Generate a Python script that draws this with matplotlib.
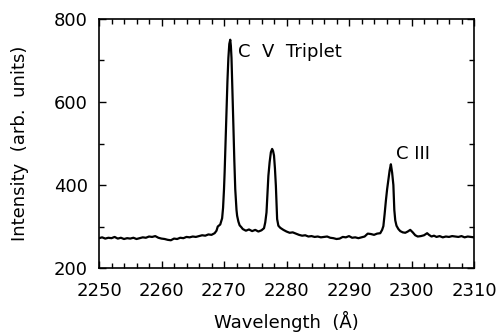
import matplotlib
matplotlib.use("Agg")
import matplotlib.pyplot as plt
from matplotlib.ticker import MultipleLocator

# Spectrum (wavelength in Angstrom, intensity arb. units)
wavelength = [
    2250.0, 2250.5, 2251.0, 2251.5, 2252.0, 2252.5, 2253.0, 2253.5, 2254.0, 2254.5,
    2255.0, 2255.5, 2256.0, 2256.5, 2257.0, 2257.5, 2258.0, 2258.5, 2259.0, 2259.5,
    2260.0, 2260.5, 2261.0, 2261.5, 2262.0, 2262.5, 2263.0, 2263.5, 2264.0, 2264.5,
    2265.0, 2265.5, 2266.0, 2266.5, 2267.0, 2267.5, 2268.0, 2268.5, 2268.8, 2269.0,
    2269.4, 2269.7, 2269.85, 2270.0, 2270.1, 2270.2, 2270.4, 2270.55, 2270.7, 2270.85,
    2271.0, 2271.1, 2271.2, 2271.35, 2271.5, 2271.65, 2271.8, 2272.0, 2272.1, 2272.3,
    2272.5, 2272.8, 2273.0, 2273.5, 2274.0, 2274.5, 2275.0, 2275.5, 2276.0, 2276.4,
    2276.6, 2276.8, 2277.1, 2277.3, 2277.5, 2277.7, 2277.85, 2278.0, 2278.15, 2278.3,
    2278.5, 2278.7, 2279.0, 2279.5, 2280.0, 2280.5, 2281.0, 2281.5, 2282.0, 2282.5,
    2283.0, 2283.5, 2284.0, 2284.5, 2285.0, 2285.5, 2286.0, 2286.5, 2287.0, 2287.5,
    2288.0, 2288.5, 2289.0, 2289.5, 2290.0, 2290.5, 2291.0, 2291.5, 2292.0, 2292.5,
    2293.0, 2293.5, 2294.0, 2294.5, 2295.0, 2295.3, 2295.5, 2295.7, 2295.9, 2296.1,
    2296.3, 2296.5, 2296.7, 2296.9, 2297.1, 2297.25, 2297.4, 2297.6, 2297.9, 2298.2,
    2298.6, 2299.0, 2299.4, 2299.8, 2300.2, 2300.6, 2301.0, 2301.5, 2302.0, 2302.5,
    2302.8, 2303.2, 2303.6, 2304.0, 2304.5, 2305.0, 2305.5, 2306.0, 2306.5, 2307.0,
    2307.5, 2308.0, 2308.5, 2309.0, 2309.5, 2310.0,
]
intensity = [
    272, 274, 271, 273, 272, 275, 271, 273, 270, 272,
    271, 273, 270, 272, 274, 273, 276, 275, 277, 273,
    271, 270, 268, 267, 271, 270, 273, 272, 275, 274,
    276, 275, 277, 279, 278, 281, 280, 284, 290, 300,
    305, 320, 345, 390, 430, 480, 585, 650, 706, 740,
    750, 735, 706, 620, 544, 460, 390, 340, 326, 312,
    303, 298, 294, 290, 293, 289, 292, 288, 291, 296,
    310, 334, 422, 455, 479, 487, 482, 471, 440, 398,
    318, 302, 297, 292, 288, 285, 286, 283, 280, 278,
    279, 276, 277, 275, 276, 274, 275, 276, 273, 272,
    270, 271, 275, 274, 277, 273, 274, 272, 274, 276,
    283, 282, 280, 283, 284, 292, 301, 330, 362, 390,
    412, 435, 450, 430, 400, 340, 315, 302, 294, 289,
    286, 285, 288, 292, 286, 279, 276, 277, 279, 284,
    280, 276, 278, 275, 277, 274, 276, 275, 277, 276,
    275, 277, 274, 276, 275, 274,
]

x_ticks = [2250, 2260, 2270, 2280, 2290, 2300, 2310]
y_ticks = [200, 400, 600, 800]
labels = {"C  V  Triplet": (2272.2, 720), "C III": (2297.5, 474)}

plt.rcParams['font.family'] = ['DejaVu Sans']

fig = plt.figure(figsize=(5.0, 3.33), dpi=100)
ax = fig.add_axes([0.198, 0.195, 0.750, 0.748])

ax.plot(wavelength, intensity, color='black', lw=1.6)

for txt, (xx, yy) in labels.items():
    ax.text(xx, yy, txt, fontsize=13, ha='left', va='center', color='black')

ax.set_xlim(2250, 2310)
ax.set_ylim(200, 800)
ax.set_xticks(x_ticks)
ax.set_yticks(y_ticks)
ax.xaxis.set_minor_locator(MultipleLocator(2))
ax.yaxis.set_minor_locator(MultipleLocator(100))
ax.tick_params(which='both', direction='in', top=True, right=True,
               labelsize=13, width=1.0, pad=8)
ax.tick_params(which='major', length=5)
ax.tick_params(which='minor', length=3.5)
ax.tick_params(axis='x', which='major', pad=10)
for s in ax.spines.values():
    s.set_linewidth(1.2)

ax.set_xlabel('Wavelength  (Å)', fontsize=13, labelpad=8)
ax.set_ylabel('Intensity  (arb.  units)', fontsize=13, labelpad=18)

fig.savefig('out.png', dpi=100)
